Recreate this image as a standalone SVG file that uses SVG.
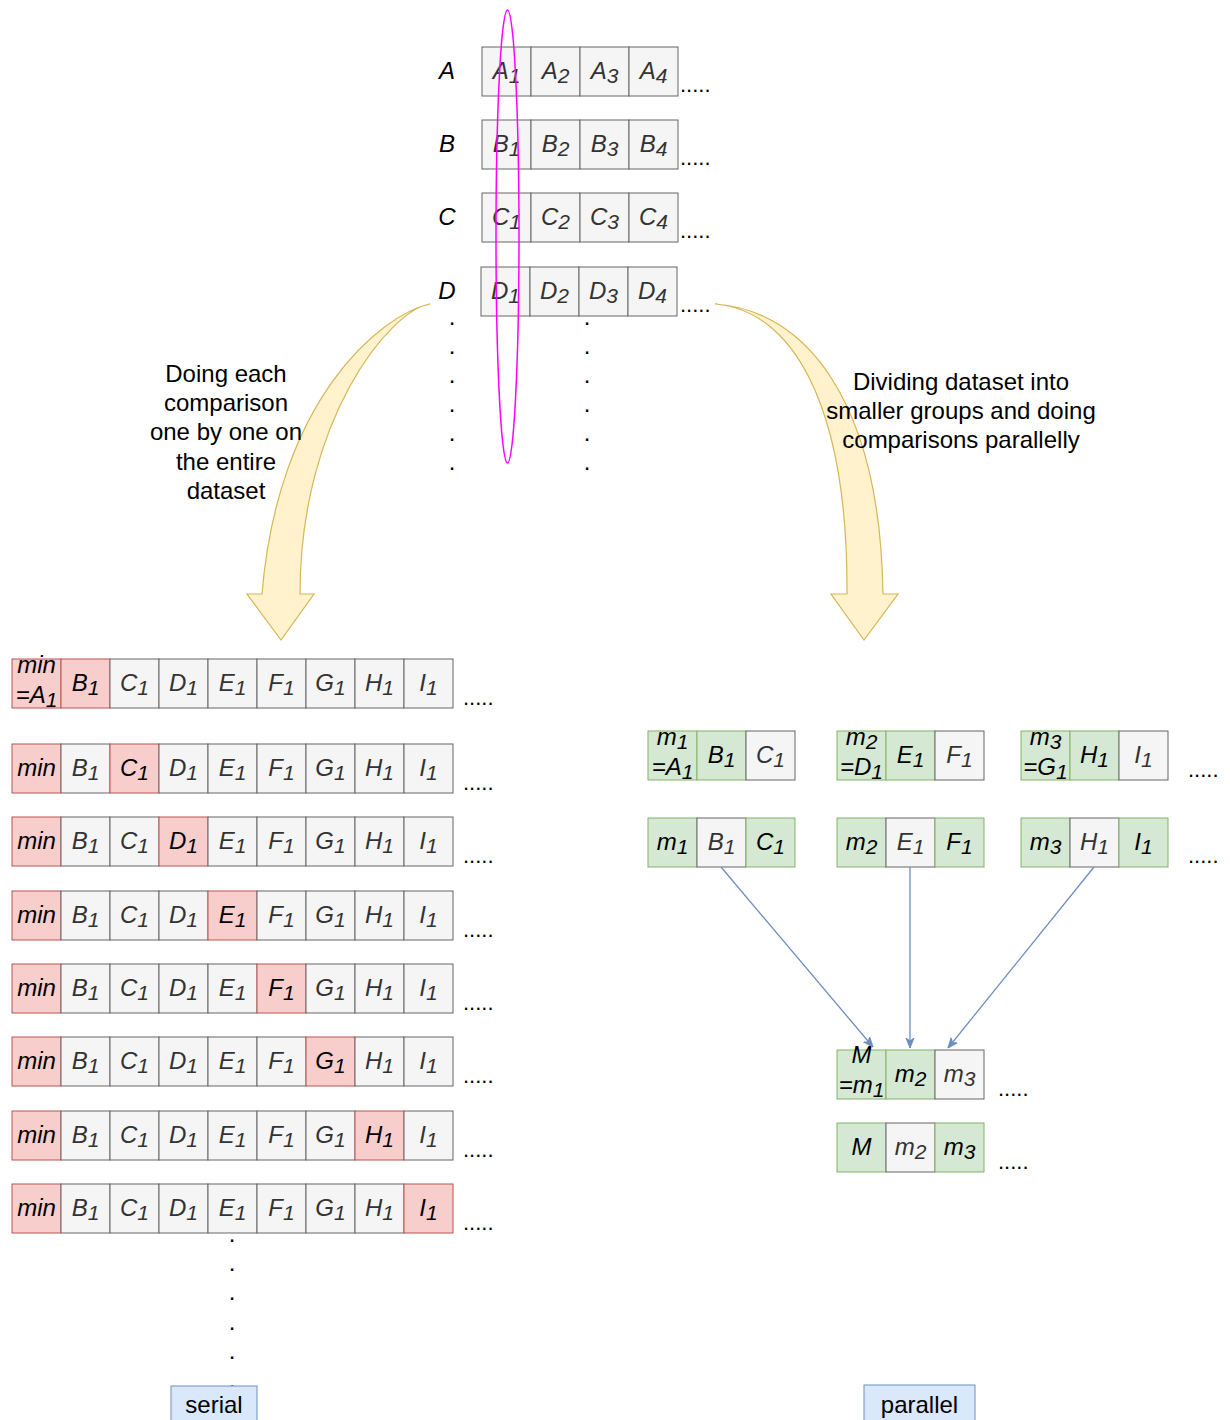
<svg xmlns="http://www.w3.org/2000/svg" width="1230" height="1420" viewBox="0 0 1230 1420">
<defs>
<style>
  .g{fill:#f5f5f5;stroke:#666666;stroke-width:1}
  .r{fill:#f8cecc;stroke:#b85450;stroke-width:1}
  .n{fill:#d5e8d4;stroke:#82b366;stroke-width:1}
  text{font-family:"Liberation Sans",Arial,Helvetica,sans-serif;font-size:24px}
  .t{font-style:italic;text-anchor:middle;fill:#333333}
  .k{font-style:italic;text-anchor:middle;fill:#000000}
  .lbl{font-style:italic;text-anchor:middle;fill:#000000}
  .s{font-size:21px}
  .dots{fill:#000000}
  .vd{fill:#000000;text-anchor:middle}
  .note{text-anchor:middle;fill:#000000}
  .curve{fill:#fff2cc;stroke:#d6b656;stroke-width:1.2}
  .link{stroke:#6c8ebf;stroke-width:1.3;fill:none;marker-end:url(#ah)}
  .tag{fill:#dae8fc;stroke:#6c8ebf;stroke-width:1}
  .sel{fill:none;stroke:#ff00ff;stroke-width:1.5}
</style>
<marker id="ah" viewBox="0 0 10 10" refX="10" refY="5" markerWidth="10" markerHeight="10" markerUnits="userSpaceOnUse" orient="auto">
  <path d="M0,1 L10,5 L0,9 L3,5 z" fill="#6c8ebf" stroke="#6c8ebf"/>
</marker>
</defs>

<rect width="1230" height="1420" fill="#ffffff"/>

<!-- dataset rows A..D -->
<g id="row-A" transform="translate(482,47)">
  <text class="lbl" x="-35" y="32">A</text>
  <rect class="g" x="0" y="0" width="49" height="49"/><rect class="g" x="49" y="0" width="49" height="49"/><rect class="g" x="98" y="0" width="49" height="49"/><rect class="g" x="147" y="0" width="49" height="49"/>
  <text class="t" x="24.5" y="31.5">A<tspan class="s" dy="4">1</tspan></text>
  <text class="t" x="73.5" y="31.5">A<tspan class="s" dy="4">2</tspan></text>
  <text class="t" x="122.5" y="31.5">A<tspan class="s" dy="4">3</tspan></text>
  <text class="t" x="171.5" y="31.5">A<tspan class="s" dy="4">4</tspan></text>
  <text class="dots" x="198" y="45" style="font-size:22px">.....</text>
</g>
<g id="row-B" transform="translate(482,120)">
  <text class="lbl" x="-35" y="32">B</text>
  <rect class="g" x="0" y="0" width="49" height="49"/><rect class="g" x="49" y="0" width="49" height="49"/><rect class="g" x="98" y="0" width="49" height="49"/><rect class="g" x="147" y="0" width="49" height="49"/>
  <text class="t" x="24.5" y="31.5">B<tspan class="s" dy="4">1</tspan></text>
  <text class="t" x="73.5" y="31.5">B<tspan class="s" dy="4">2</tspan></text>
  <text class="t" x="122.5" y="31.5">B<tspan class="s" dy="4">3</tspan></text>
  <text class="t" x="171.5" y="31.5">B<tspan class="s" dy="4">4</tspan></text>
  <text class="dots" x="198" y="45" style="font-size:22px">.....</text>
</g>
<g id="row-C" transform="translate(482,193)">
  <text class="lbl" x="-35" y="32">C</text>
  <rect class="g" x="0" y="0" width="49" height="49"/><rect class="g" x="49" y="0" width="49" height="49"/><rect class="g" x="98" y="0" width="49" height="49"/><rect class="g" x="147" y="0" width="49" height="49"/>
  <text class="t" x="24.5" y="31.5">C<tspan class="s" dy="4">1</tspan></text>
  <text class="t" x="73.5" y="31.5">C<tspan class="s" dy="4">2</tspan></text>
  <text class="t" x="122.5" y="31.5">C<tspan class="s" dy="4">3</tspan></text>
  <text class="t" x="171.5" y="31.5">C<tspan class="s" dy="4">4</tspan></text>
  <text class="dots" x="198" y="45" style="font-size:22px">.....</text>
</g>
<g id="row-D" transform="translate(481,267)">
  <text class="lbl" x="-34" y="32">D</text>
  <rect class="g" x="0" y="0" width="49" height="49"/><rect class="g" x="49" y="0" width="49" height="49"/><rect class="g" x="98" y="0" width="49" height="49"/><rect class="g" x="147" y="0" width="49" height="49"/>
  <text class="t" x="24.5" y="31.5">D<tspan class="s" dy="4">1</tspan></text>
  <text class="t" x="73.5" y="31.5">D<tspan class="s" dy="4">2</tspan></text>
  <text class="t" x="122.5" y="31.5">D<tspan class="s" dy="4">3</tspan></text>
  <text class="t" x="171.5" y="31.5">D<tspan class="s" dy="4">4</tspan></text>
  <text class="dots" x="199" y="45" style="font-size:22px">.....</text>
</g>

<!-- continuation dots under the dataset -->
<g id="more-rows">
  <text class="vd" x="452" y="325">.</text><text class="vd" x="452" y="354">.</text><text class="vd" x="452" y="383">.</text>
  <text class="vd" x="452" y="412">.</text><text class="vd" x="452" y="441">.</text><text class="vd" x="452" y="470">.</text>
  <text class="vd" x="587" y="325">.</text><text class="vd" x="587" y="354">.</text><text class="vd" x="587" y="383">.</text>
  <text class="vd" x="587" y="412">.</text><text class="vd" x="587" y="441">.</text><text class="vd" x="587" y="470">.</text>
</g>

<!-- first column selection -->
<g id="selection">
  <ellipse class="sel" cx="507.5" cy="236.5" rx="11.5" ry="226.5"/>
</g>

<!-- curved arrows and notes -->
<g id="serial-arrow">
  <path class="curve" d="M430,304 C380,315 278,400 262,594 L247,594 L281,640 L314,594 L300,594 C300,420 390,310 430,304 Z"/>
  <text class="note" x="226" y="382">Doing each</text>
  <text class="note" x="226" y="411">comparison</text>
  <text class="note" x="226" y="440">one by one on</text>
  <text class="note" x="226" y="470">the entire</text>
  <text class="note" x="226" y="499">dataset</text>
</g>
<g id="parallel-arrow">
  <path class="curve" d="M715,304 C805,310 880,400 883,594 L898,594 L864,640 L831,594 L847,594 C848,400 790,310 715,304 Z"/>
  <text class="note" x="961" y="390">Dividing dataset into</text>
  <text class="note" x="961" y="419">smaller groups and doing</text>
  <text class="note" x="961" y="448">comparisons parallelly</text>
</g>

<!-- serial comparisons -->
<g id="serial-1" transform="translate(12,659)">
  <rect class="r" x="0" y="0" width="49" height="49"/><rect class="r" x="49" y="0" width="49" height="49"/><rect class="g" x="98" y="0" width="49" height="49"/><rect class="g" x="147" y="0" width="49" height="49"/><rect class="g" x="196" y="0" width="49" height="49"/><rect class="g" x="245" y="0" width="49" height="49"/><rect class="g" x="294" y="0" width="49" height="49"/><rect class="g" x="343" y="0" width="49" height="49"/><rect class="g" x="392" y="0" width="49" height="49"/>
  <text class="k" x="24.5" y="14">min</text>
  <text class="k" x="24.5" y="44">=A<tspan class="s" dy="4">1</tspan></text>
  <text class="k" x="73.5" y="31.5">B<tspan class="s" dy="4">1</tspan></text>
  <text class="t" x="122.5" y="31.5">C<tspan class="s" dy="4">1</tspan></text>
  <text class="t" x="171.5" y="31.5">D<tspan class="s" dy="4">1</tspan></text>
  <text class="t" x="220.5" y="31.5">E<tspan class="s" dy="4">1</tspan></text>
  <text class="t" x="269.5" y="31.5">F<tspan class="s" dy="4">1</tspan></text>
  <text class="t" x="318.5" y="31.5">G<tspan class="s" dy="4">1</tspan></text>
  <text class="t" x="367.5" y="31.5">H<tspan class="s" dy="4">1</tspan></text>
  <text class="t" x="416.5" y="31.5">I<tspan class="s" dy="4">1</tspan></text>
  <text class="dots" x="451" y="46" style="font-size:22px">.....</text>
</g>
<g id="serial-2" transform="translate(12,744)">
  <rect class="r" x="0" y="0" width="49" height="49"/><rect class="g" x="49" y="0" width="49" height="49"/><rect class="r" x="98" y="0" width="49" height="49"/><rect class="g" x="147" y="0" width="49" height="49"/><rect class="g" x="196" y="0" width="49" height="49"/><rect class="g" x="245" y="0" width="49" height="49"/><rect class="g" x="294" y="0" width="49" height="49"/><rect class="g" x="343" y="0" width="49" height="49"/><rect class="g" x="392" y="0" width="49" height="49"/>
  <text class="k" x="24.5" y="31.5">min</text>
  <text class="t" x="73.5" y="31.5">B<tspan class="s" dy="4">1</tspan></text>
  <text class="k" x="122.5" y="31.5">C<tspan class="s" dy="4">1</tspan></text>
  <text class="t" x="171.5" y="31.5">D<tspan class="s" dy="4">1</tspan></text>
  <text class="t" x="220.5" y="31.5">E<tspan class="s" dy="4">1</tspan></text>
  <text class="t" x="269.5" y="31.5">F<tspan class="s" dy="4">1</tspan></text>
  <text class="t" x="318.5" y="31.5">G<tspan class="s" dy="4">1</tspan></text>
  <text class="t" x="367.5" y="31.5">H<tspan class="s" dy="4">1</tspan></text>
  <text class="t" x="416.5" y="31.5">I<tspan class="s" dy="4">1</tspan></text>
  <text class="dots" x="451" y="46" style="font-size:22px">.....</text>
</g>
<g id="serial-3" transform="translate(12,817)">
  <rect class="r" x="0" y="0" width="49" height="49"/><rect class="g" x="49" y="0" width="49" height="49"/><rect class="g" x="98" y="0" width="49" height="49"/><rect class="r" x="147" y="0" width="49" height="49"/><rect class="g" x="196" y="0" width="49" height="49"/><rect class="g" x="245" y="0" width="49" height="49"/><rect class="g" x="294" y="0" width="49" height="49"/><rect class="g" x="343" y="0" width="49" height="49"/><rect class="g" x="392" y="0" width="49" height="49"/>
  <text class="k" x="24.5" y="31.5">min</text>
  <text class="t" x="73.5" y="31.5">B<tspan class="s" dy="4">1</tspan></text>
  <text class="t" x="122.5" y="31.5">C<tspan class="s" dy="4">1</tspan></text>
  <text class="k" x="171.5" y="31.5">D<tspan class="s" dy="4">1</tspan></text>
  <text class="t" x="220.5" y="31.5">E<tspan class="s" dy="4">1</tspan></text>
  <text class="t" x="269.5" y="31.5">F<tspan class="s" dy="4">1</tspan></text>
  <text class="t" x="318.5" y="31.5">G<tspan class="s" dy="4">1</tspan></text>
  <text class="t" x="367.5" y="31.5">H<tspan class="s" dy="4">1</tspan></text>
  <text class="t" x="416.5" y="31.5">I<tspan class="s" dy="4">1</tspan></text>
  <text class="dots" x="451" y="46" style="font-size:22px">.....</text>
</g>
<g id="serial-4" transform="translate(12,891)">
  <rect class="r" x="0" y="0" width="49" height="49"/><rect class="g" x="49" y="0" width="49" height="49"/><rect class="g" x="98" y="0" width="49" height="49"/><rect class="g" x="147" y="0" width="49" height="49"/><rect class="r" x="196" y="0" width="49" height="49"/><rect class="g" x="245" y="0" width="49" height="49"/><rect class="g" x="294" y="0" width="49" height="49"/><rect class="g" x="343" y="0" width="49" height="49"/><rect class="g" x="392" y="0" width="49" height="49"/>
  <text class="k" x="24.5" y="31.5">min</text>
  <text class="t" x="73.5" y="31.5">B<tspan class="s" dy="4">1</tspan></text>
  <text class="t" x="122.5" y="31.5">C<tspan class="s" dy="4">1</tspan></text>
  <text class="t" x="171.5" y="31.5">D<tspan class="s" dy="4">1</tspan></text>
  <text class="k" x="220.5" y="31.5">E<tspan class="s" dy="4">1</tspan></text>
  <text class="t" x="269.5" y="31.5">F<tspan class="s" dy="4">1</tspan></text>
  <text class="t" x="318.5" y="31.5">G<tspan class="s" dy="4">1</tspan></text>
  <text class="t" x="367.5" y="31.5">H<tspan class="s" dy="4">1</tspan></text>
  <text class="t" x="416.5" y="31.5">I<tspan class="s" dy="4">1</tspan></text>
  <text class="dots" x="451" y="46" style="font-size:22px">.....</text>
</g>
<g id="serial-5" transform="translate(12,964)">
  <rect class="r" x="0" y="0" width="49" height="49"/><rect class="g" x="49" y="0" width="49" height="49"/><rect class="g" x="98" y="0" width="49" height="49"/><rect class="g" x="147" y="0" width="49" height="49"/><rect class="g" x="196" y="0" width="49" height="49"/><rect class="r" x="245" y="0" width="49" height="49"/><rect class="g" x="294" y="0" width="49" height="49"/><rect class="g" x="343" y="0" width="49" height="49"/><rect class="g" x="392" y="0" width="49" height="49"/>
  <text class="k" x="24.5" y="31.5">min</text>
  <text class="t" x="73.5" y="31.5">B<tspan class="s" dy="4">1</tspan></text>
  <text class="t" x="122.5" y="31.5">C<tspan class="s" dy="4">1</tspan></text>
  <text class="t" x="171.5" y="31.5">D<tspan class="s" dy="4">1</tspan></text>
  <text class="t" x="220.5" y="31.5">E<tspan class="s" dy="4">1</tspan></text>
  <text class="k" x="269.5" y="31.5">F<tspan class="s" dy="4">1</tspan></text>
  <text class="t" x="318.5" y="31.5">G<tspan class="s" dy="4">1</tspan></text>
  <text class="t" x="367.5" y="31.5">H<tspan class="s" dy="4">1</tspan></text>
  <text class="t" x="416.5" y="31.5">I<tspan class="s" dy="4">1</tspan></text>
  <text class="dots" x="451" y="46" style="font-size:22px">.....</text>
</g>
<g id="serial-6" transform="translate(12,1037)">
  <rect class="r" x="0" y="0" width="49" height="49"/><rect class="g" x="49" y="0" width="49" height="49"/><rect class="g" x="98" y="0" width="49" height="49"/><rect class="g" x="147" y="0" width="49" height="49"/><rect class="g" x="196" y="0" width="49" height="49"/><rect class="g" x="245" y="0" width="49" height="49"/><rect class="r" x="294" y="0" width="49" height="49"/><rect class="g" x="343" y="0" width="49" height="49"/><rect class="g" x="392" y="0" width="49" height="49"/>
  <text class="k" x="24.5" y="31.5">min</text>
  <text class="t" x="73.5" y="31.5">B<tspan class="s" dy="4">1</tspan></text>
  <text class="t" x="122.5" y="31.5">C<tspan class="s" dy="4">1</tspan></text>
  <text class="t" x="171.5" y="31.5">D<tspan class="s" dy="4">1</tspan></text>
  <text class="t" x="220.5" y="31.5">E<tspan class="s" dy="4">1</tspan></text>
  <text class="t" x="269.5" y="31.5">F<tspan class="s" dy="4">1</tspan></text>
  <text class="k" x="318.5" y="31.5">G<tspan class="s" dy="4">1</tspan></text>
  <text class="t" x="367.5" y="31.5">H<tspan class="s" dy="4">1</tspan></text>
  <text class="t" x="416.5" y="31.5">I<tspan class="s" dy="4">1</tspan></text>
  <text class="dots" x="451" y="46" style="font-size:22px">.....</text>
</g>
<g id="serial-7" transform="translate(12,1111)">
  <rect class="r" x="0" y="0" width="49" height="49"/><rect class="g" x="49" y="0" width="49" height="49"/><rect class="g" x="98" y="0" width="49" height="49"/><rect class="g" x="147" y="0" width="49" height="49"/><rect class="g" x="196" y="0" width="49" height="49"/><rect class="g" x="245" y="0" width="49" height="49"/><rect class="g" x="294" y="0" width="49" height="49"/><rect class="r" x="343" y="0" width="49" height="49"/><rect class="g" x="392" y="0" width="49" height="49"/>
  <text class="k" x="24.5" y="31.5">min</text>
  <text class="t" x="73.5" y="31.5">B<tspan class="s" dy="4">1</tspan></text>
  <text class="t" x="122.5" y="31.5">C<tspan class="s" dy="4">1</tspan></text>
  <text class="t" x="171.5" y="31.5">D<tspan class="s" dy="4">1</tspan></text>
  <text class="t" x="220.5" y="31.5">E<tspan class="s" dy="4">1</tspan></text>
  <text class="t" x="269.5" y="31.5">F<tspan class="s" dy="4">1</tspan></text>
  <text class="t" x="318.5" y="31.5">G<tspan class="s" dy="4">1</tspan></text>
  <text class="k" x="367.5" y="31.5">H<tspan class="s" dy="4">1</tspan></text>
  <text class="t" x="416.5" y="31.5">I<tspan class="s" dy="4">1</tspan></text>
  <text class="dots" x="451" y="46" style="font-size:22px">.....</text>
</g>
<g id="serial-8" transform="translate(12,1184)">
  <rect class="r" x="0" y="0" width="49" height="49"/><rect class="g" x="49" y="0" width="49" height="49"/><rect class="g" x="98" y="0" width="49" height="49"/><rect class="g" x="147" y="0" width="49" height="49"/><rect class="g" x="196" y="0" width="49" height="49"/><rect class="g" x="245" y="0" width="49" height="49"/><rect class="g" x="294" y="0" width="49" height="49"/><rect class="g" x="343" y="0" width="49" height="49"/><rect class="r" x="392" y="0" width="49" height="49"/>
  <text class="k" x="24.5" y="31.5">min</text>
  <text class="t" x="73.5" y="31.5">B<tspan class="s" dy="4">1</tspan></text>
  <text class="t" x="122.5" y="31.5">C<tspan class="s" dy="4">1</tspan></text>
  <text class="t" x="171.5" y="31.5">D<tspan class="s" dy="4">1</tspan></text>
  <text class="t" x="220.5" y="31.5">E<tspan class="s" dy="4">1</tspan></text>
  <text class="t" x="269.5" y="31.5">F<tspan class="s" dy="4">1</tspan></text>
  <text class="t" x="318.5" y="31.5">G<tspan class="s" dy="4">1</tspan></text>
  <text class="t" x="367.5" y="31.5">H<tspan class="s" dy="4">1</tspan></text>
  <text class="k" x="416.5" y="31.5">I<tspan class="s" dy="4">1</tspan></text>
  <text class="dots" x="451" y="46" style="font-size:22px">.....</text>
</g>
<g id="serial-more">
  <text class="vd" x="232" y="1242">.</text><text class="vd" x="232" y="1271">.</text><text class="vd" x="232" y="1300">.</text>
  <text class="vd" x="232" y="1330">.</text><text class="vd" x="232" y="1359">.</text><text class="vd" x="232" y="1388">.</text>
</g>

<!-- parallel groups, first pass -->
<g id="group-1a" transform="translate(648,731)">
  <rect class="n" x="0" y="0" width="49" height="49"/><rect class="n" x="49" y="0" width="49" height="49"/><rect class="g" x="98" y="0" width="49" height="49"/>
  <text class="k" x="24.5" y="14">m<tspan class="s" dy="4">1</tspan></text>
  <text class="k" x="24.5" y="44">=A<tspan class="s" dy="4">1</tspan></text>
  <text class="k" x="73.5" y="31.5">B<tspan class="s" dy="4">1</tspan></text>
  <text class="t" x="122.5" y="31.5">C<tspan class="s" dy="4">1</tspan></text>
</g>
<g id="group-2a" transform="translate(837,731)">
  <rect class="n" x="0" y="0" width="49" height="49"/><rect class="n" x="49" y="0" width="49" height="49"/><rect class="g" x="98" y="0" width="49" height="49"/>
  <text class="k" x="24.5" y="14">m<tspan class="s" dy="4">2</tspan></text>
  <text class="k" x="24.5" y="44">=D<tspan class="s" dy="4">1</tspan></text>
  <text class="k" x="73.5" y="31.5">E<tspan class="s" dy="4">1</tspan></text>
  <text class="t" x="122.5" y="31.5">F<tspan class="s" dy="4">1</tspan></text>
</g>
<g id="group-3a" transform="translate(1021,731)">
  <rect class="n" x="0" y="0" width="49" height="49"/><rect class="n" x="49" y="0" width="49" height="49"/><rect class="g" x="98" y="0" width="49" height="49"/>
  <text class="k" x="24.5" y="14">m<tspan class="s" dy="4">3</tspan></text>
  <text class="k" x="24.5" y="44">=G<tspan class="s" dy="4">1</tspan></text>
  <text class="k" x="73.5" y="31.5">H<tspan class="s" dy="4">1</tspan></text>
  <text class="t" x="122.5" y="31.5">I<tspan class="s" dy="4">1</tspan></text>
  <text class="dots" x="167" y="46" style="font-size:22px">.....</text>
</g>

<!-- parallel groups, second pass -->
<g id="group-1b" transform="translate(648,818)">
  <rect class="n" x="0" y="0" width="49" height="49"/><rect class="g" x="49" y="0" width="49" height="49"/><rect class="n" x="98" y="0" width="49" height="49"/>
  <text class="k" x="24.5" y="31.5">m<tspan class="s" dy="4">1</tspan></text>
  <text class="t" x="73.5" y="31.5">B<tspan class="s" dy="4">1</tspan></text>
  <text class="k" x="122.5" y="31.5">C<tspan class="s" dy="4">1</tspan></text>
</g>
<g id="group-2b" transform="translate(837,818)">
  <rect class="n" x="0" y="0" width="49" height="49"/><rect class="g" x="49" y="0" width="49" height="49"/><rect class="n" x="98" y="0" width="49" height="49"/>
  <text class="k" x="24.5" y="31.5">m<tspan class="s" dy="4">2</tspan></text>
  <text class="t" x="73.5" y="31.5">E<tspan class="s" dy="4">1</tspan></text>
  <text class="k" x="122.5" y="31.5">F<tspan class="s" dy="4">1</tspan></text>
</g>
<g id="group-3b" transform="translate(1021,818)">
  <rect class="n" x="0" y="0" width="49" height="49"/><rect class="g" x="49" y="0" width="49" height="49"/><rect class="n" x="98" y="0" width="49" height="49"/>
  <text class="k" x="24.5" y="31.5">m<tspan class="s" dy="4">3</tspan></text>
  <text class="t" x="73.5" y="31.5">H<tspan class="s" dy="4">1</tspan></text>
  <text class="k" x="122.5" y="31.5">I<tspan class="s" dy="4">1</tspan></text>
  <text class="dots" x="167" y="45" style="font-size:22px">.....</text>
</g>

<!-- merged minima -->
<g id="merge-a" transform="translate(837,1050)">
  <rect class="n" x="0" y="0" width="49" height="49"/><rect class="n" x="49" y="0" width="49" height="49"/><rect class="g" x="98" y="0" width="49" height="49"/>
  <text class="k" x="24.5" y="13">M</text>
  <text class="k" x="24.5" y="43">=m<tspan class="s" dy="4">1</tspan></text>
  <text class="k" x="73.5" y="31.5">m<tspan class="s" dy="4">2</tspan></text>
  <text class="t" x="122.5" y="31.5">m<tspan class="s" dy="4">3</tspan></text>
  <text class="dots" x="161" y="46" style="font-size:22px">.....</text>
</g>
<g id="merge-b" transform="translate(837,1123)">
  <rect class="n" x="0" y="0" width="49" height="49"/><rect class="g" x="49" y="0" width="49" height="49"/><rect class="n" x="98" y="0" width="49" height="49"/>
  <text class="k" x="24.5" y="32">M</text>
  <text class="t" x="73.5" y="31.5">m<tspan class="s" dy="4">2</tspan></text>
  <text class="k" x="122.5" y="31.5">m<tspan class="s" dy="4">3</tspan></text>
  <text class="dots" x="161" y="46" style="font-size:22px">.....</text>
</g>

<!-- connectors -->
<g id="connectors">
  <line class="link" x1="721" y1="867" x2="873" y2="1047"/>
  <line class="link" x1="910" y1="867" x2="910" y2="1048"/>
  <line class="link" x1="1094" y1="867" x2="948" y2="1048"/>
</g>

<!-- captions -->
<g id="caption-serial">
  <rect class="tag" x="171" y="1386" width="86" height="40"/>
  <text class="note" x="214" y="1413">serial</text>
</g>
<g id="caption-parallel">
  <rect class="tag" x="864" y="1385" width="111" height="40"/>
  <text class="note" x="919.5" y="1413">parallel</text>
</g>
</svg>
